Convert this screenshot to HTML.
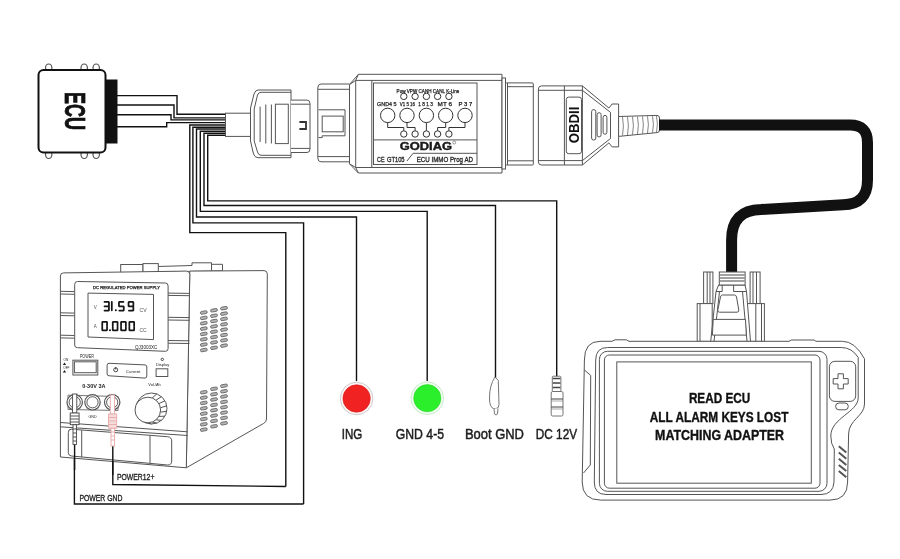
<!DOCTYPE html>
<html><head><meta charset="utf-8">
<style>
html,body{margin:0;padding:0;background:#fff;width:900px;height:559px;overflow:hidden}
svg{display:block;will-change:transform}
text{font-family:"Liberation Sans",sans-serif}
</style></head>
<body>
<svg width="900" height="559" viewBox="0 0 900 559">
<rect width="900" height="559" fill="#fff"/>

<!-- ===== ECU ===== -->
<g id="ecu" stroke="#111" fill="#fff">
  <ellipse cx="48.7" cy="68" rx="3.2" ry="4" stroke-width="1.2" stroke="#555"/>
  <ellipse cx="84.2" cy="68" rx="3.2" ry="4" stroke-width="1.2" stroke="#555"/>
  <ellipse cx="96.2" cy="68" rx="3.2" ry="4" stroke-width="1.2" stroke="#555"/>
  <ellipse cx="48.7" cy="154.5" rx="3.2" ry="4" stroke-width="1.2" stroke="#555"/>
  <ellipse cx="84.2" cy="154.5" rx="3.2" ry="4" stroke-width="1.2" stroke="#555"/>
  <ellipse cx="96.2" cy="154.5" rx="3.2" ry="4" stroke-width="1.2" stroke="#555"/>
  <rect x="38.5" y="70" width="67" height="82.5" rx="5" stroke-width="2"/>
  <rect x="105.5" y="79.5" width="12" height="64" fill="#111" stroke="none"/>
</g>
<text x="0" y="0" font-size="29" font-weight="bold" fill="#111" stroke="#111" stroke-width="0.8" transform="translate(64.5,92) rotate(90)" textLength="38" lengthAdjust="spacingAndGlyphs">ECU</text>

<!-- ECU wires -->
<g fill="none" stroke="#111" stroke-width="1.4">
  <polyline points="117,95.6 177,95.6 177,114.3 226,114.3"/>
  <polyline points="117,105 174,105 174,117.9 226,117.9"/>
  <polyline points="117,114.7 171,114.7 171,119.9 226,119.9"/>
  <polyline points="117,126.7 166.7,126.7 166.7,122.6 226,122.6"/>
</g>

<!-- harness wires -->
<g fill="none" stroke="#111" stroke-width="1.4">
  <polyline points="226,125 189.8,125 189.8,232.6 285.8,232.6 285.8,486.5"/>
  <polyline points="226,127.2 192.9,127.2 192.9,222.9 303.6,222.9 303.6,504"/>
  <polyline points="226,129 196.5,129 196.5,217 356.5,217 356.5,381"/>
  <polyline points="226,131.2 200.3,131.2 200.3,211.4 427.2,211.4 427.2,381"/>
  <polyline points="226,133.3 204,133.3 204,205.5 495.5,205.5 495.5,378"/>
  <polyline points="226,135.2 207.7,135.2 207.7,200.9 556.7,200.9 556.7,377"/>
  <polyline points="74.4,405 74.4,504 303.6,504"/>
  <polyline points="112.8,415 112.8,484.5 285.8,486.5"/>
</g>

<!-- ===== female OBD connector ===== -->
<g fill="#fff" stroke="#555" stroke-width="1">
  <rect x="225.5" y="113.2" width="25" height="23.2"/>
  <path d="M258,90 L291,90 L291,157.7 L258,157.7 Q255,157.7 253.5,154 L250.5,141 L250.5,108 L254,94 Q255.5,90 258,90 Z"/>
  <path d="M261,92.3 L291,92.3 M261,92.3 Q258.5,92.3 257.5,95 L254.2,109 L254.2,141 L257.5,152 Q258.5,155.3 261,155.3 L291,155.3" fill="none"/>
  <path d="M291,100.1 L307,100.1 Q310,100.1 310,103.5 L310,149 Q310,152.5 307,152.5 L291,152.5"/>
  <path d="M291,104.2 L310,104.2 M291,148.4 L310,148.4" fill="none"/>
  <line x1="260.1" y1="106.6" x2="260.1" y2="142"/>
  <line x1="265.8" y1="104.5" x2="265.8" y2="143.5"/>
  <line x1="271.4" y1="104.5" x2="271.4" y2="143.5"/>
  <rect x="275.4" y="104.2" width="12.9" height="39.4"/>
  <path d="M299.4,122 L306,122 L306,129 L299.4,129" fill="none" stroke="#333" stroke-width="1.8"/>
</g>
<!-- male socket -->
<g fill="#fff" stroke="#555" stroke-width="1">
  <path d="M349.5,84 L321,84 Q317.8,84 317.8,88 L317.8,157.8 Q317.8,161.8 321,161.8 L349.5,161.8"/>
  <line x1="318" y1="89.3" x2="349" y2="89.3"/>
  <line x1="318" y1="156.6" x2="349" y2="156.6"/>
  <path d="M318.5,109.8 L345,109.8 L345,135.8 L322.2,135.8 L322.2,137.6 L318.5,137.6" fill="none"/>
  <rect x="322.2" y="116.1" width="21" height="15.7"/>
</g>

<!-- ===== GODIAG box ===== -->
<g fill="#fff" stroke="#555" stroke-width="1">
  <path d="M358.4,74.3 L502,74.3 L502,173 L358.4,173 L349.5,163.8 L349.5,84.6 Z"/>
  <line x1="355.7" y1="80.4" x2="355.7" y2="167.5"/>
  <line x1="355.7" y1="80.4" x2="502" y2="80.4"/>
  <line x1="355.7" y1="167.5" x2="502" y2="167.5"/>
  <line x1="349.5" y1="84.6" x2="355.7" y2="80.4"/>
  <line x1="349.5" y1="163.8" x2="355.7" y2="167.5"/>
  <line x1="358.4" y1="74.3" x2="355.7" y2="80.4"/>
  <line x1="358.4" y1="173" x2="355.7" y2="167.5"/>
  <line x1="371.8" y1="80.4" x2="371.8" y2="167.5"/>
  <rect x="373.5" y="83" width="103.5" height="81.5"/>
  <line x1="373.5" y1="139.9" x2="477" y2="139.9"/>
  <path d="M407,161 L413,153.3 L477,153.3" fill="none"/>
</g>
<g fill="#fff" stroke="#333" stroke-width="1">
  <circle cx="403.8" cy="96.4" r="3.2"/><circle cx="415.1" cy="96.4" r="3.2"/><circle cx="426.4" cy="96.4" r="3.2"/><circle cx="437.6" cy="96.4" r="3.2"/><circle cx="448.9" cy="96.4" r="3.2"/>
  <circle cx="387.7" cy="115.4" r="7.2"/><circle cx="407" cy="115.4" r="7.2"/><circle cx="426.4" cy="115.4" r="7.2"/><circle cx="445.7" cy="115.4" r="7.2"/><circle cx="465" cy="115.4" r="7.2"/>
  <circle cx="403.8" cy="134" r="3.2"/><circle cx="415.1" cy="134" r="3.2"/><circle cx="426.4" cy="134" r="3.2"/><circle cx="437.6" cy="134" r="3.2"/><circle cx="448.9" cy="134" r="3.2"/>
  <path fill="none" d="M387.7,122.6 L387.7,127.5 L403.8,127.5 L403.8,130.8 M407,122.6 L407,127.5 L415.1,127.5 L415.1,130.8 M426.4,122.6 L426.4,130.8 M445.7,122.6 L445.7,127.5 L437.6,127.5 L437.6,130.8 M465,122.6 L465,127.5 L448.9,127.5 L448.9,130.8"/>
</g>
<g fill="#222" font-size="5" stroke="#222" stroke-width="0.25">
  <text x="396.6" y="92.8" textLength="62.8" lengthAdjust="spacingAndGlyphs">Pow VPW CANH CANL K-Line</text>
  <text x="377" y="106" font-size="5.5" textLength="19.6" lengthAdjust="spacingAndGlyphs">GND4 5</text>
  <text x="399.8" y="106" font-size="5.5" textLength="15.2" lengthAdjust="spacingAndGlyphs">V1 5 16</text>
  <text x="418.3" y="106" font-size="5.5" textLength="14.5" lengthAdjust="spacingAndGlyphs">1 8 1 3</text>
  <text x="437.6" y="106" font-size="5.5" textLength="14.4" lengthAdjust="spacingAndGlyphs">MT 6</text>
  <text x="458.6" y="106" font-size="5.5" textLength="13.7" lengthAdjust="spacingAndGlyphs">P 3 7</text>
</g>
<text x="399.8" y="149.7" font-size="10" font-weight="bold" fill="#1a1a1a" stroke="#1a1a1a" stroke-width="0.4" textLength="52.2" lengthAdjust="spacingAndGlyphs">GODIAG</text>
<circle cx="454.2" cy="142.5" r="1.5" fill="none" stroke="#555" stroke-width="0.6"/>
<g fill="#222" font-size="7.2" stroke="#222" stroke-width="0.3">
  <text x="377" y="161.5" textLength="7.5" lengthAdjust="spacingAndGlyphs">CE</text>
  <text x="386.9" y="161.5" textLength="17.7" lengthAdjust="spacingAndGlyphs">GT105</text>
  <text x="416.7" y="161.5" textLength="56.3" lengthAdjust="spacingAndGlyphs">ECU IMMO Prog AD</text>
</g>

<!-- ===== right section & OBDII male ===== -->
<g fill="#fff" stroke="#555" stroke-width="1">
  <rect x="502" y="78" width="3.5" height="91"/>
  <rect x="505.5" y="82.9" width="27.8" height="82.1" rx="1"/>
  <path d="M507.5,86.7 L533.3,86.7 M507.5,160.8 L533.3,160.8 M507.5,83 L507.5,165" fill="none"/>
  <path d="M541.5,85.9 L582.4,85.9 L608.9,108 L612.1,104 L618.6,104 L618.6,146.9 L612.1,146.9 L608.9,142.9 L582.4,165 L541.5,165 Q538.4,165 538.4,162 L538.4,89 Q538.4,85.9 541.5,85.9 Z"/>
  <path d="M538.4,90.3 L582.4,90.3 L610.5,112.4 L610.5,138.5 L582.4,160.6 L538.4,160.6" fill="none"/>
  <line x1="564.4" y1="85.9" x2="564.4" y2="165"/>
  <line x1="582.4" y1="85.9" x2="582.4" y2="165"/>
  <rect x="566.3" y="97.1" width="15.2" height="56.6" rx="2.5"/>
  <rect x="591.6" y="109.6" width="4.2" height="30.5" rx="2.1"/>
  <rect x="597.1" y="112.7" width="4" height="24.2" rx="2"/>
  <rect x="603.1" y="115.4" width="3.8" height="18.8" rx="1.9"/>
  <path d="M618.6,116.5 L657,115.4 Q659.5,115.4 659.5,118 L659.5,130 Q659.5,132.6 657,132.6 L618.6,136.4 Z"/>
  <path d="M622.5,116.9 Q624.3,126.2 622.5,135.5 M627.5,116.8 Q629.3,125.9 627.5,135.1 M632.5,116.6 Q634.3,125.6 632.5,134.6 M637.5,116.5 Q639.3,125.3 637.5,134.1 M642.5,116.4 Q644.3,125.0 642.5,133.7 M647.5,116.2 Q649.3,124.7 647.5,133.2 M652.5,116.1 Q654.3,124.4 652.5,132.8 M656.5,116.0 Q658.3,124.2 656.5,132.4" fill="none" stroke="#666" stroke-width="0.8"/>
</g>
<text x="0" y="0" font-size="14.5" font-weight="bold" fill="#111" transform="translate(578.9,143.3) rotate(-90)" textLength="36.6" lengthAdjust="spacingAndGlyphs">OBDII</text>

<!-- black cable -->
<path d="M659,125 L850,125 Q867.5,125 867.5,142.5 L867.5,180 Q867.5,204.5 843,204.8 L761,209.5 Q731.6,210 731.6,240 L731.6,273" fill="none" stroke="#111" stroke-width="11"/>

<!-- ===== DB9 connector ===== -->
<g fill="#fff" stroke="#555" stroke-width="1">
  <rect x="703.6" y="272" width="9.3" height="31.6"/>
  <line x1="707.2" y1="272" x2="707.2" y2="303.6"/><line x1="710" y1="272" x2="710" y2="303.6"/>
  <rect x="750.1" y="272" width="10" height="31.6"/>
  <line x1="753" y1="272" x2="753" y2="303.6"/><line x1="756.5" y1="272" x2="756.5" y2="303.6"/>
  <rect x="697.2" y="303.6" width="15" height="37.8"/>
  <line x1="700" y1="303.6" x2="700" y2="341.4"/>
  <rect x="744.4" y="303.6" width="20" height="37.8"/>
  <line x1="755.8" y1="303.6" x2="755.8" y2="341.4"/><line x1="761.5" y1="303.6" x2="761.5" y2="341.4"/>
  <path d="M718.6,285 L745,285 L746.5,291.5 L750.5,341.4 L710.7,341.4 L716,291.5 Z"/>
  <path d="M722.2,285 L722.2,291.5 L716,291.5 M733.6,285 L733.6,291.5 L746.5,291.5" fill="none"/>
  <path d="M719.5,291.5 L714,341.4 M742.5,291.5 L747,341.4" fill="none"/>
  <path d="M722.5,295 L734.5,295 Q736,295 736.5,297 L738.8,310 Q739,312.2 737,312.2 L719.5,312.2 Q717.5,312.2 717.8,310 L720.5,297 Q721,295 722.5,295 Z"/>
  <path d="M713.2,319.4 L745.5,319.4 L746.3,335.1 L712.4,335.1 Z"/>
  <rect x="719.3" y="272" width="25.8" height="13"/>
  <path d="M720,275 L744.5,275 M720,278 L744.5,278 M720,281 L744.5,281" stroke="#444" stroke-width="1.1"/>
</g>

<!-- ===== Tablet ===== -->
<g fill="#fff" stroke="#555" stroke-width="1">
  <path d="M600,341.3 L612,341.3 L615,339.8 L626.3,339.8 L629,341.3 L789,341.3 L791.3,340 L814,340 L816,341.3 L842.6,341.3 Q855,341.3 864.5,358.8 L864.5,404 C864.5,416 848.6,420 848.6,434 L847.6,482 Q847.6,500.1 830,500.1 L600.8,500.1 Q582.2,500.1 582.2,482 L584.4,360 Q584.4,341.3 600,341.3 Z"/>
  <path d="M607.6,347.5 L841.3,347.5 Q852,347.5 858.2,357.5 L858.2,398 C858.2,412 830.8,418 830.8,436 Q830.8,444 834.3,449 L834,482 Q833.2,494.5 821,494.5 L606,494.5 Q594.3,494.5 594.3,482 L595.7,360 Q595.7,347.5 607.6,347.5 Z"/>
  <rect x="599.4" y="351.3" width="227.6" height="140" rx="8"/>
  <rect x="604.4" y="355" width="215.6" height="133.2" rx="5"/>
  <rect x="616.8" y="361.9" width="194.5" height="121.3"/>
  <path d="M584.4,370 L590.7,375.4 L590.3,465 L583.5,473" fill="none"/>
  <rect x="829.4" y="361.3" width="26.3" height="40.1" rx="5.5"/>
  <rect x="835.6" y="403" width="12.7" height="6.8" rx="3.4"/>
  <path d="M838,373.8 L843.4,373.8 L843.4,378.6 L848.2,378.6 L848.2,384 L843.4,384 L843.4,388.8 L838,388.8 L838,384 L833.2,384 L833.2,378.6 L838,378.6 Z" stroke="#555"/>
</g>
<path d="M838.8,446.3 L846.3,452.5 M838.8,452.5 L846.3,458.7 M838.8,458.7 L846.3,464.9 M838.8,464.9 L846.3,471.1 M838.8,471.1 L846.3,477.3" stroke="#555" stroke-width="2"/>
<g font-weight="bold" fill="#111" stroke="#111" stroke-width="0.35" font-size="14.2" text-anchor="start">
  <text x="688.9" y="403.1" textLength="61.3" lengthAdjust="spacingAndGlyphs">READ ECU</text>
  <text x="649.8" y="421.8" textLength="138.6" lengthAdjust="spacingAndGlyphs">ALL ALARM KEYS LOST</text>
  <text x="655.1" y="440.4" textLength="128.9" lengthAdjust="spacingAndGlyphs">MATCHING ADAPTER</text>
</g>

<!-- ===== lights & ends ===== -->
<circle cx="356.6" cy="398.5" r="16.3" fill="#fdf3f3" stroke="#c8c8c8" stroke-width="0.9"/>
<circle cx="356.6" cy="398.5" r="13.7" fill="#f02222" stroke="#d81f1f" stroke-width="0.6"/>
<circle cx="427.3" cy="398.2" r="16.3" fill="#effcef" stroke="#c6e8c6" stroke-width="0.9"/>
<circle cx="427.3" cy="398.2" r="13.6" fill="#2bef2b" stroke="#2ad52a" stroke-width="0.6"/>
<g fill="#fff" stroke="#666" stroke-width="0.9">
  <path d="M495,377 L498.3,380.5 L499,404.5 Q499,408.5 496,408.5 L493.5,408.5 Q489.5,407.5 489.5,398 Q489.5,385 495,377 Z"/>
  <path d="M494,408.5 L494.5,414 Q496,416 497.5,414 L498,408.5"/>
  <rect x="552.3" y="376.2" width="8.6" height="15.3" rx="1"/>
  <path d="M552.8,378.5 L560.4,378.5 M552.8,383 L560.4,383 M552.8,387.5 L560.4,387.5" stroke="#444" stroke-width="1.4"/>
  <rect x="551.2" y="391.5" width="11.8" height="24.5" rx="1.5"/>
  <path d="M551.2,399 L563,399 M551.2,407 L563,407" stroke="#444" stroke-width="1.2"/>
  <path d="M551.2,401 L563,401 M551.2,409 L563,409" stroke="#888" stroke-width="0.7"/>
</g>
<g font-size="15" fill="#1e1e1e" stroke="#1e1e1e" stroke-width="0.5">
  <text x="341.7" y="438.7" textLength="20.6" lengthAdjust="spacingAndGlyphs">ING</text>
  <text x="395.8" y="438.7" textLength="48.2" lengthAdjust="spacingAndGlyphs">GND 4-5</text>
  <text x="464.9" y="438.7" textLength="59.1" lengthAdjust="spacingAndGlyphs">Boot GND</text>
  <text x="535.8" y="438.7" textLength="41.3" lengthAdjust="spacingAndGlyphs">DC 12V</text>
</g>

<!-- ===== PSU ===== -->
<g fill="#fff" stroke="#555" stroke-width="1">
  <!-- handle -->
  <path d="M157.7,266.5 L192,265.5 L192,262.8 L211.5,262.8 L211.5,264.3 L222.5,264.3 L222.5,270.8 L157.7,272 Z"/>
  <line x1="211.5" y1="262.8" x2="211.5" y2="270.8"/>
  <rect x="120.7" y="264.5" width="22.3" height="8"/>
  <rect x="143" y="263.6" width="15.3" height="8.9"/>
  <!-- side face -->
  <path d="M189.8,271.1 L264,270.6 Q267.3,270.6 267.3,274 L266.5,419 Q266.5,422 263.5,423.5 L186.3,467.8 Z"/>
  <!-- front face -->
  <path d="M63.5,272.9 L186.5,271.1 Q189.8,271.1 189.8,274.5 L186.3,467.8 L60.4,457 L60.4,276 Q60.4,272.9 63.5,272.9 Z"/>
  <!-- grip bands -->
  <path d="M60.4,291.3 L74.7,291.6 M60.4,294 L74.7,294.3 M60.4,312.8 L74.7,313.1 M60.4,315.5 L74.7,315.8 M60.4,335.2 L74.7,335.5 M60.4,337.9 L74.7,338.2" />
  <path d="M168,293.1 L189.5,293.4 M168,295.4 L189.5,295.7 M168,317.3 L189.5,317.6 M168,320 L189.5,320.3 M168,340.5 L189.5,340.8 M168,343.2 L189.5,343.5" />
  <!-- display panel -->
  <path d="M77.5,281.5 L165.5,283 Q168.1,283 168.1,286 L168.1,348.5 Q168.1,351.3 165.5,351.3 L77.5,347.7 Q74.7,347.7 74.7,345 L74.7,284.3 Q74.7,281.5 77.5,281.5 Z"/>
  <path d="M88,293.1 L153.5,294.4 L153.5,339.6 L88,337 Z"/>
  <!-- power switch -->
  <rect x="72.9" y="360.2" width="24.9" height="14.8"/>
  <rect x="74.4" y="361.8" width="21.8" height="10.9"/>
  <!-- current button -->
  <path d="M109,363.3 L145,364.9 Q146.8,365 146.8,367 L146.8,376 Q146.8,378.1 145,378.1 L109,375.8 Q107.1,375.7 107.1,373.8 L107.1,365.3 Q107.1,363.3 109,363.3 Z"/>
  <circle cx="115.7" cy="369.8" r="2" stroke="#444"/>
  <line x1="115.7" y1="367" x2="115.7" y2="369.5" stroke="#444"/>
  <!-- display button -->
  <rect x="156.1" y="368.8" width="11.7" height="7.7"/>
  <circle cx="162.3" cy="359.4" r="1.2" stroke="#444"/>
  <!-- posts bar -->
  <path d="M68,395.2 L118,396.5 L118,410.5 L68,409.5 Z" stroke="#777"/>
  <circle cx="74.7" cy="402.3" r="7.7" stroke-width="1.2"/><circle cx="74.7" cy="402.3" r="5.6"/>
  <circle cx="92.5" cy="402.3" r="7.7" stroke-width="1.2"/><circle cx="92.5" cy="402.3" r="5.6"/>
  <circle cx="112.2" cy="402.3" r="7.7" stroke-width="1.2"/><circle cx="112.2" cy="402.3" r="5.6"/>
  <!-- knob -->
  <circle cx="151.5" cy="408.5" r="15.5"/>
  <path d="M156.8,393.9 L152.2,398.0 M161.5,396.6 L156.0,400.2 M164.9,400.8 L158.9,403.6 M166.8,405.8 L160.4,407.8 M166.8,411.2 L160.4,412.2 M164.9,416.2 L158.9,416.4 M161.5,420.4 L156.0,419.8 M156.8,423.1 L152.2,422.0 M151.5,424.0 L147.8,422.8" stroke="#555"/>
  <circle cx="147.8" cy="410" r="12.8"/>
  <!-- ledge -->
  <path d="M60.4,422.5 L187.5,431.8 M60.4,426.8 L187.5,435.5"/>
  <!-- recess -->
  <path d="M71.5,429.2 L167.5,436.7 Q171.7,437 171.7,441 L171.7,461 Q171.7,465.2 167.5,465 L71.5,456 Q68.3,455.7 68.3,452.5 L68.3,432.5 Q68.3,429 71.5,429.2 Z"/>
  <path d="M81.7,430.2 L81.7,457.2 M150,435.9 L150,463"/>
</g>
<g fill="#b5b5b5" stroke="#555" stroke-width="0.75">
  <rect x="200.4" y="311.1" width="6.8" height="2.8" rx="1.2" transform="rotate(-10 203.8 312.5)"/>
  <rect x="200.4" y="316.5" width="6.8" height="2.8" rx="1.2" transform="rotate(-10 203.8 317.9)"/>
  <rect x="200.4" y="321.8" width="6.8" height="2.8" rx="1.2" transform="rotate(-10 203.8 323.2)"/>
  <rect x="200.4" y="327.2" width="6.8" height="2.8" rx="1.2" transform="rotate(-10 203.8 328.6)"/>
  <rect x="200.4" y="332.5" width="6.8" height="2.8" rx="1.2" transform="rotate(-10 203.8 333.9)"/>
  <rect x="200.4" y="337.9" width="6.8" height="2.8" rx="1.2" transform="rotate(-10 203.8 339.2)"/>
  <rect x="200.4" y="343.2" width="6.8" height="2.8" rx="1.2" transform="rotate(-10 203.8 344.6)"/>
  <rect x="200.4" y="348.6" width="6.8" height="2.8" rx="1.2" transform="rotate(-10 203.8 349.9)"/>
  <rect x="210.6" y="308.9" width="6.8" height="2.8" rx="1.2" transform="rotate(-10 214.0 310.3)"/>
  <rect x="210.6" y="314.3" width="6.8" height="2.8" rx="1.2" transform="rotate(-10 214.0 315.7)"/>
  <rect x="210.6" y="319.6" width="6.8" height="2.8" rx="1.2" transform="rotate(-10 214.0 321.0)"/>
  <rect x="210.6" y="325.0" width="6.8" height="2.8" rx="1.2" transform="rotate(-10 214.0 326.4)"/>
  <rect x="210.6" y="330.3" width="6.8" height="2.8" rx="1.2" transform="rotate(-10 214.0 331.7)"/>
  <rect x="210.6" y="335.7" width="6.8" height="2.8" rx="1.2" transform="rotate(-10 214.0 337.1)"/>
  <rect x="210.6" y="341.0" width="6.8" height="2.8" rx="1.2" transform="rotate(-10 214.0 342.4)"/>
  <rect x="210.6" y="346.4" width="6.8" height="2.8" rx="1.2" transform="rotate(-10 214.0 347.8)"/>
  <rect x="220.6" y="306.8" width="6.8" height="2.8" rx="1.2" transform="rotate(-10 224.0 308.2)"/>
  <rect x="220.6" y="312.2" width="6.8" height="2.8" rx="1.2" transform="rotate(-10 224.0 313.6)"/>
  <rect x="220.6" y="317.5" width="6.8" height="2.8" rx="1.2" transform="rotate(-10 224.0 318.9)"/>
  <rect x="220.6" y="322.9" width="6.8" height="2.8" rx="1.2" transform="rotate(-10 224.0 324.2)"/>
  <rect x="220.6" y="328.2" width="6.8" height="2.8" rx="1.2" transform="rotate(-10 224.0 329.6)"/>
  <rect x="220.6" y="333.6" width="6.8" height="2.8" rx="1.2" transform="rotate(-10 224.0 334.9)"/>
  <rect x="220.6" y="338.9" width="6.8" height="2.8" rx="1.2" transform="rotate(-10 224.0 340.3)"/>
  <rect x="220.6" y="344.2" width="6.8" height="2.8" rx="1.2" transform="rotate(-10 224.0 345.6)"/>
  <rect x="200.4" y="390.8" width="6.8" height="2.8" rx="1.2" transform="rotate(-10 203.8 392.2)"/>
  <rect x="200.4" y="396.2" width="6.8" height="2.8" rx="1.2" transform="rotate(-10 203.8 397.6)"/>
  <rect x="200.4" y="401.5" width="6.8" height="2.8" rx="1.2" transform="rotate(-10 203.8 402.9)"/>
  <rect x="200.4" y="406.9" width="6.8" height="2.8" rx="1.2" transform="rotate(-10 203.8 408.2)"/>
  <rect x="200.4" y="412.2" width="6.8" height="2.8" rx="1.2" transform="rotate(-10 203.8 413.6)"/>
  <rect x="200.4" y="417.6" width="6.8" height="2.8" rx="1.2" transform="rotate(-10 203.8 418.9)"/>
  <rect x="200.4" y="422.9" width="6.8" height="2.8" rx="1.2" transform="rotate(-10 203.8 424.3)"/>
  <rect x="200.4" y="428.2" width="6.8" height="2.8" rx="1.2" transform="rotate(-10 203.8 429.6)"/>
  <rect x="210.6" y="387.4" width="6.8" height="2.8" rx="1.2" transform="rotate(-10 214.0 388.8)"/>
  <rect x="210.6" y="392.8" width="6.8" height="2.8" rx="1.2" transform="rotate(-10 214.0 394.2)"/>
  <rect x="210.6" y="398.1" width="6.8" height="2.8" rx="1.2" transform="rotate(-10 214.0 399.5)"/>
  <rect x="210.6" y="403.5" width="6.8" height="2.8" rx="1.2" transform="rotate(-10 214.0 404.9)"/>
  <rect x="210.6" y="408.8" width="6.8" height="2.8" rx="1.2" transform="rotate(-10 214.0 410.2)"/>
  <rect x="210.6" y="414.2" width="6.8" height="2.8" rx="1.2" transform="rotate(-10 214.0 415.6)"/>
  <rect x="210.6" y="419.5" width="6.8" height="2.8" rx="1.2" transform="rotate(-10 214.0 420.9)"/>
  <rect x="210.6" y="424.9" width="6.8" height="2.8" rx="1.2" transform="rotate(-10 214.0 426.2)"/>
  <rect x="220.6" y="384.4" width="6.8" height="2.8" rx="1.2" transform="rotate(-10 224.0 385.8)"/>
  <rect x="220.6" y="389.8" width="6.8" height="2.8" rx="1.2" transform="rotate(-10 224.0 391.2)"/>
  <rect x="220.6" y="395.1" width="6.8" height="2.8" rx="1.2" transform="rotate(-10 224.0 396.5)"/>
  <rect x="220.6" y="400.5" width="6.8" height="2.8" rx="1.2" transform="rotate(-10 224.0 401.9)"/>
  <rect x="220.6" y="405.8" width="6.8" height="2.8" rx="1.2" transform="rotate(-10 224.0 407.2)"/>
  <rect x="220.6" y="411.2" width="6.8" height="2.8" rx="1.2" transform="rotate(-10 224.0 412.6)"/>
  <rect x="220.6" y="416.5" width="6.8" height="2.8" rx="1.2" transform="rotate(-10 224.0 417.9)"/>
  <rect x="220.6" y="421.9" width="6.8" height="2.8" rx="1.2" transform="rotate(-10 224.0 423.2)"/>
</g>
<!-- plugs -->
<path d="M74.6,444 L74.6,470 M112.8,446 L112.8,475" stroke="#111" stroke-width="1.4" fill="none"/>
<g stroke="#444" stroke-width="0.9" fill="#fff">
  <rect x="72.6" y="394" width="4.2" height="19"/>
  <rect x="70.2" y="413" width="8.9" height="11.7"/>
  <path d="M70.2,416 L79.1,416 M70.2,419 L79.1,419 M70.2,422 L79.1,422"/>
  <rect x="73" y="424.7" width="3.4" height="19.7"/>
  <path d="M73,429 L76.4,429 M73,433 L76.4,433 M73,437 L76.4,437 M73,441 L76.4,441"/>
</g>
<g stroke="#e8a8a8" stroke-width="0.9" fill="#fff">
  <rect x="110.3" y="395" width="4.2" height="19"/>
  <rect x="108.6" y="414" width="8.1" height="14.3" fill="#f7dcdc"/>
  <path d="M108.6,417.5 L116.7,417.5 M108.6,421 L116.7,421 M108.6,424.5 L116.7,424.5"/>
  <rect x="111" y="428.3" width="3.6" height="17.7"/>
  <path d="M111,432 L114.6,432 M111,436 L114.6,436 M111,440 L114.6,440"/>
</g>
<g fill="#222" font-size="4.2">
  <text x="93" y="288.6" stroke="#222" stroke-width="0.25" textLength="67" lengthAdjust="spacingAndGlyphs">DC REGULATED POWER SUPPLY</text>
  <text x="135" y="349.3" font-size="4.8" textLength="22.4" lengthAdjust="spacingAndGlyphs">QJ3003XC</text>
  <text x="93.8" y="309" font-size="4.5" fill="#555">V</text>
  <text x="93.8" y="327.5" font-size="4.5" fill="#555">A</text>
  <text x="139.5" y="311.9" font-size="4.6" fill="#555" textLength="7.2" lengthAdjust="spacingAndGlyphs">CV</text>
  <text x="139.5" y="331.6" font-size="4.6" fill="#555" textLength="7.2" lengthAdjust="spacingAndGlyphs">CC</text>
  <text x="79.9" y="357.6" font-size="4.5" textLength="14" lengthAdjust="spacingAndGlyphs">POWER</text>
  <text x="63.5" y="360.8" font-size="3.2">ON</text>
  <text x="63.2" y="368.5" font-size="3.2">OFF</text>
  <text x="125.8" y="372.5" font-size="4.2" textLength="14.7" lengthAdjust="spacingAndGlyphs">Current</text>
  <text x="156" y="366" font-size="3.6" textLength="13.3" lengthAdjust="spacingAndGlyphs">Display</text>
  <text x="148.3" y="385.8" font-size="3.6" textLength="12.5" lengthAdjust="spacingAndGlyphs">Vol./Ah</text>
  <text x="82.2" y="387.8" font-size="5.2" font-weight="bold" textLength="23.3" lengthAdjust="spacingAndGlyphs">0-30V  3A</text>
  <text x="88.5" y="417.5" font-size="3.4" textLength="8" lengthAdjust="spacingAndGlyphs">GND</text>
</g>
<path d="M64.5,362.5 L66.2,365 L62.8,365 Z M64.5,370 L66.2,372.5 L62.8,372.5 Z" fill="#222"/>
<path d="M104.50,301.95 L108.60,301.95 M108.95,302.30 L108.95,305.90 M108.95,306.60 L108.95,310.20 M104.50,310.55 L108.60,310.55 M104.50,306.25 L108.60,306.25 M111.8,301.9 L111.8,310.3 M119.30,301.95 L123.40,301.95 M123.75,306.60 L123.75,310.20 M119.30,310.55 L123.40,310.55 M118.95,302.30 L118.95,305.90 M119.30,306.25 L123.40,306.25 M128.90,301.95 L133.00,301.95 M133.35,302.30 L133.35,305.90 M133.35,306.60 L133.35,310.20 M128.90,310.55 L133.00,310.55 M128.55,302.30 L128.55,305.90 M128.90,306.25 L133.00,306.25 M102.60,321.75 L106.70,321.75 M107.05,322.10 L107.05,325.70 M107.05,326.40 L107.05,330.00 M102.60,330.35 L106.70,330.35 M102.25,326.40 L102.25,330.00 M102.25,322.10 L102.25,325.70 M113.10,321.75 L117.20,321.75 M117.55,322.10 L117.55,325.70 M117.55,326.40 L117.55,330.00 M113.10,330.35 L117.20,330.35 M112.75,326.40 L112.75,330.00 M112.75,322.10 L112.75,325.70 M121.40,321.75 L125.50,321.75 M125.85,322.10 L125.85,325.70 M125.85,326.40 L125.85,330.00 M121.40,330.35 L125.50,330.35 M121.05,326.40 L121.05,330.00 M121.05,322.10 L121.05,325.70 M129.70,321.75 L133.80,321.75 M134.15,322.10 L134.15,325.70 M134.15,326.40 L134.15,330.00 M129.70,330.35 L133.80,330.35 M129.35,326.40 L129.35,330.00 M129.35,322.10 L129.35,325.70" stroke="#151515" stroke-width="1.75" stroke-linecap="round" fill="none"/>
<circle cx="115.8" cy="310.2" r="1" fill="#111"/><circle cx="110" cy="330.3" r="1" fill="#111"/>
<g fill="#222" font-size="9.5" stroke="#222" stroke-width="0.35">
  <text x="117" y="479.5" textLength="37.4" lengthAdjust="spacingAndGlyphs">POWER12+</text>
  <text x="79.4" y="501" textLength="43.1" lengthAdjust="spacingAndGlyphs">POWER GND</text>
</g>

</svg>
</body></html>
